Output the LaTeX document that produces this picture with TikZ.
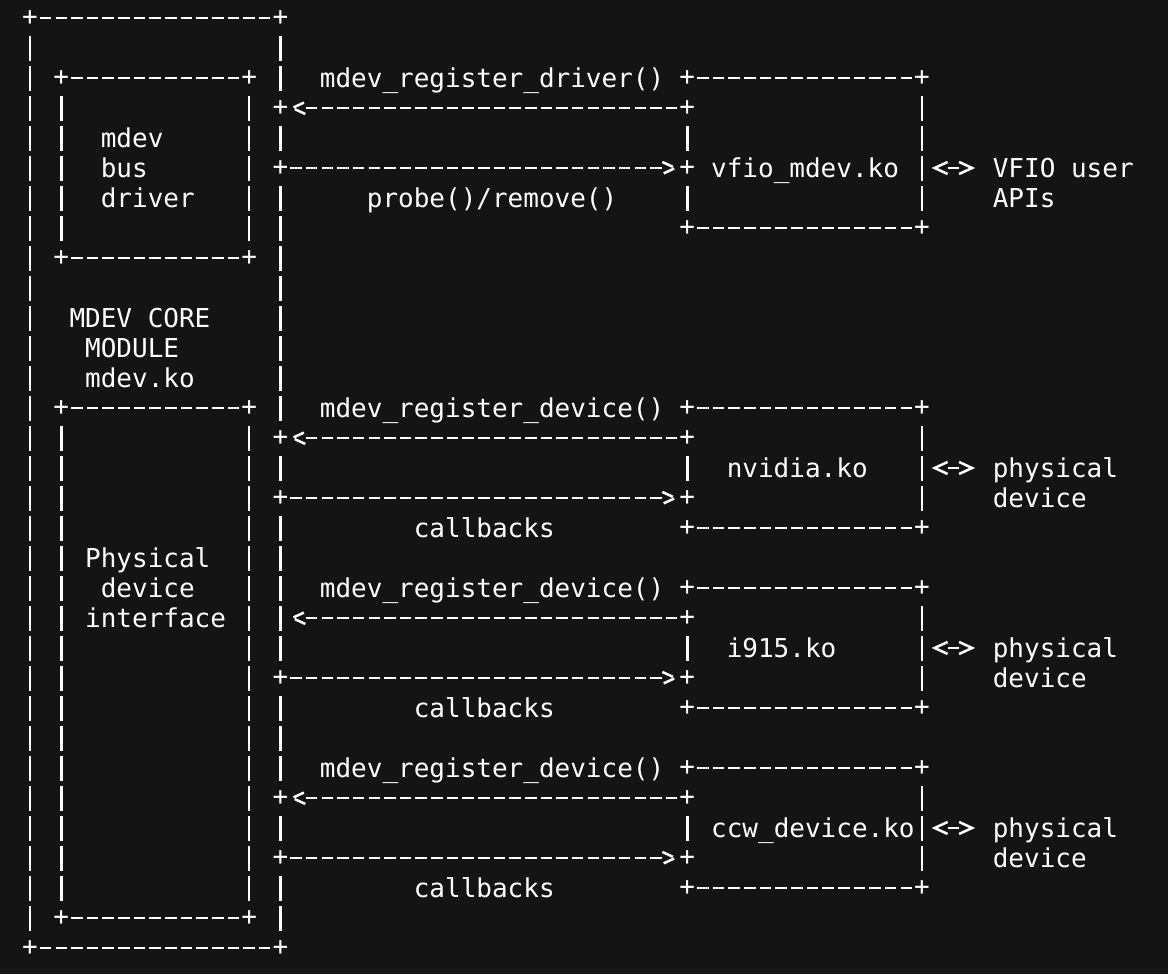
\documentclass[tikz,border=0pt]{standalone}
\usepackage{fontspec}
\usepackage{xcolor}
\usepackage{tikz}
\usetikzlibrary{arrows.meta}

\newfontfamily\termmono{DejaVu Sans Mono}
\newcommand{\termfont}{\termmono\fontsize{13pt}{15pt}\selectfont}
\definecolor{termbg}{HTML}{141414}
\definecolor{termfg}{HTML}{FFFFFF}

% open chevron tip, the shaft stops at its back
\pgfdeclarearrow{
  name = Chevron,
  parameters = {\the\pgfarrowlength,\the\pgfarrowwidth},
  setup code = {
    \pgfarrowssettipend{0pt}
    \pgfarrowssetlineend{-\pgfarrowlength}
    \pgfarrowssetvisualbackend{-\pgfarrowlength}
    \pgfarrowssetbackend{-\pgfarrowlength}
    \pgfarrowshullpoint{0pt}{0pt}
    \pgfarrowsupperhullpoint{-\pgfarrowlength}{.5\pgfarrowwidth}
    \pgfarrowssavethe\pgfarrowlength
    \pgfarrowssavethe\pgfarrowwidth
  },
  drawing code = {
    \pgfpathmoveto{\pgfqpoint{-\pgfarrowlength}{.5\pgfarrowwidth}}
    \pgfpathlineto{\pgfpointorigin}
    \pgfpathlineto{\pgfqpoint{-\pgfarrowlength}{-.5\pgfarrowwidth}}
    \pgfusepathqstroke
  },
  defaults = {length = 6.5pt, width = 6pt}
}

\tikzset{
  pluspt/.style={font=\termfont, inner sep=0pt},
  lbl/.style={font=\termfont, inner sep=0pt, anchor=base west, align=left},
  hrule/.style={line width=1.25pt, dash pattern=on 5.75pt off 2.075pt,
    shorten <=4.95pt, shorten >=4.95pt},
  vrule/.style={line width=1.25pt, dash pattern=on 12.5pt off 2.5pt,
    shorten <=9.25pt, shorten >=8.25pt},
  callarrow/.style={hrule, -{Chevron}, shorten >=5.95pt},
  duplex/.style={line width=1.25pt, {Chevron}-{Chevron},
    shorten <=6.3pt, shorten >=10.15pt}
}

\begin{document}
\begin{tikzpicture}[x=7.825pt, y=-15pt, termfg]
  \fill[termbg] (-1.917,-0.6) rectangle (72.72,31.87);
  \useasboundingbox (-1.917,-0.6) rectangle (72.72,31.87);

  % corners and junctions
  \foreach \n/\c/\r in {otl/0/0, otr/16/0, obl/0/31, obr/16/31,
      j3/16/3, j5/16/5, j14/16/14, j16/16/16, j22/16/22, j26/16/26, j28/16/28,
      atl/2/2, atr/14/2, abl/2/8, abr/14/8,
      btl/2/13, btr/14/13, bbl/2/30, bbr/14/30,
      vtl/42/2, vtr/57/2, vbl/42/7, vbr/57/7, v3/42/3, v5/42/5,
      ntl/42/13, ntr/57/13, nbl/42/17, nbr/57/17, n14/42/14, n16/42/16,
      itl/42/19, itr/57/19, ibl/42/23, ibr/57/23, i20/42/20, i22/42/22,
      ctl/42/25, ctr/57/25, cbl/42/29, cbr/57/29, c26/42/26, c28/42/28}
    \node[pluspt] (\n) at (\c,\r) {+};
  \coordinate (k20) at (16,20);

  % box edges
  \foreach \a/\b in {otl/otr, obl/obr, atl/atr, abl/abr, btl/btr, bbl/bbr,
      vtl/vtr, vbl/vbr, ntl/ntr, nbl/nbr, itl/itr, ibl/ibr, ctl/ctr, cbl/cbr}
    \draw[hrule] (\a.center) -- (\b.center);
  \foreach \a/\b in {otl/obl, otr/j3, j3/j5, j5/j14, j14/j16, j16/j22,
      j22/j26, j26/j28, j28/obr, atl/abl, atr/abr, btl/bbl, btr/bbr,
      v3/v5, v5/vbl, vtr/vbr, n14/n16, ntr/nbr, i20/i22, itr/ibr,
      c26/c28, ctr/cbr}
    \draw[vrule] (\a.center) -- (\b.center);

  % MDEV core module (multi-line labels sit on their last line)
  \node[lbl] (busdrv) at (4.5,6.31) {mdev\\bus\\driver};
  \node[lbl] (core) at (2.5,12.31) {MDEV CORE\\\hphantom{M}MODULE\\\hphantom{M}mdev.ko};
  \node[lbl] (physif) at (3.5,20.31) {Physical\\\hphantom{M}device\\interface};

  % registration and calls
  \node[lbl] (regdrv) at (18.5,2.31) {mdev\_register\_driver()};
  \node[lbl] (probe) at (21.5,6.31) {probe()/remove()};
  \draw[callarrow] (v3.center) -- (j3.center);
  \draw[callarrow] (j5.center) -- (v5.center);

  \node[lbl] (regdev1) at (18.5,13.31) {mdev\_register\_device()};
  \node[lbl] (cb1) at (24.5,17.31) {callbacks};
  \draw[callarrow] (n14.center) -- (j14.center);
  \draw[callarrow] (j16.center) -- (n16.center);

  \node[lbl] (regdev2) at (18.5,19.31) {mdev\_register\_device()};
  \node[lbl] (cb2) at (24.5,23.31) {callbacks};
  \draw[callarrow] (i20.center) -- (k20);
  \draw[callarrow] (j22.center) -- (i22.center);

  \node[lbl] (regdev3) at (18.5,25.31) {mdev\_register\_device()};
  \node[lbl] (cb3) at (24.5,29.31) {callbacks};
  \draw[callarrow] (c26.center) -- (j26.center);
  \draw[callarrow] (j28.center) -- (c28.center);

  % vendor modules
  \node[lbl] (vfio) at (43.5,5.31) {vfio\_mdev.ko};
  \node[lbl] (nvidia) at (44.5,15.31) {nvidia.ko};
  \node[lbl] (i915) at (44.5,21.31) {i915.ko};
  \node[lbl] (ccw) at (43.5,27.31) {ccw\_device.ko};

  % outside world
  \node[lbl] (vapi) at (61.5,6.31) {VFIO user\\APIs};
  \node[lbl] (nphy) at (61.5,16.31) {physical\\device};
  \node[lbl] (iphy) at (61.5,22.31) {physical\\device};
  \node[lbl] (cphy) at (61.5,28.31) {physical\\device};
  \coordinate (vr) at (57,5);
  \coordinate (nr) at (57,15);
  \coordinate (ir) at (57,21);
  \coordinate (cr) at (57,27);
  \draw[duplex] (vr) -- (vapi.west |- vr);
  \draw[duplex] (nr) -- (nphy.west |- nr);
  \draw[duplex] (ir) -- (iphy.west |- ir);
  \draw[duplex] (cr) -- (cphy.west |- cr);
\end{tikzpicture}
\end{document}
